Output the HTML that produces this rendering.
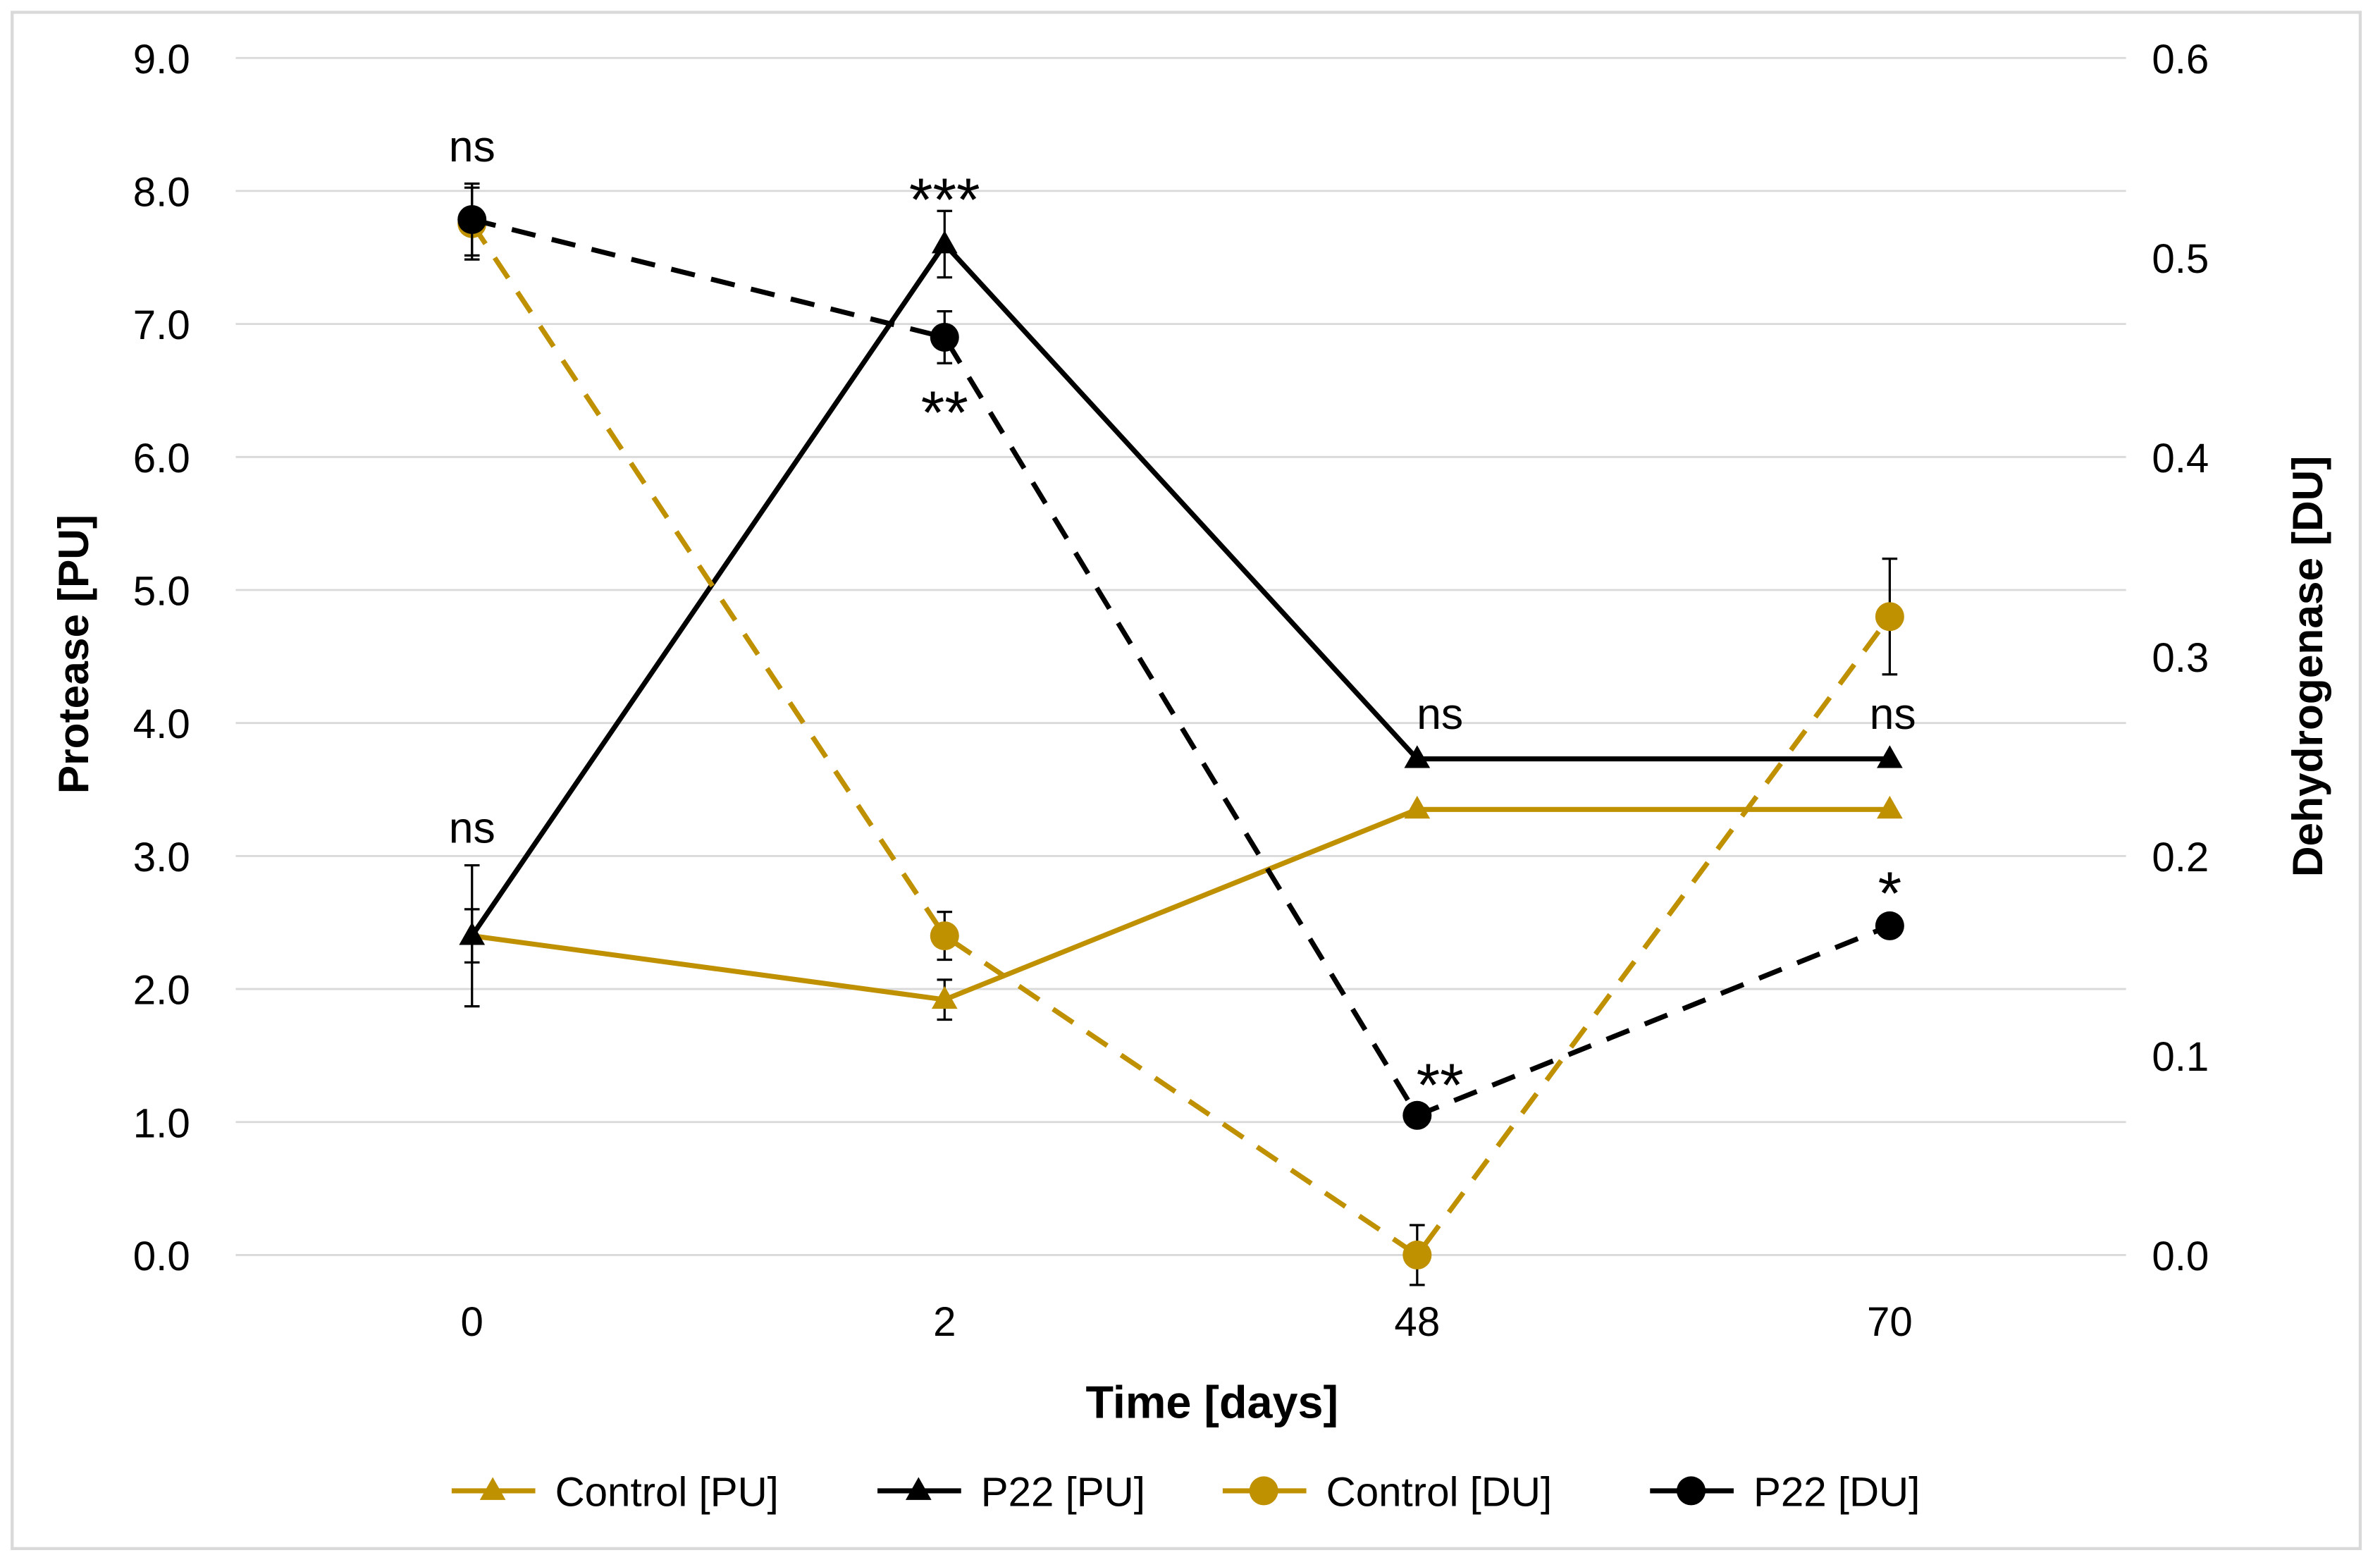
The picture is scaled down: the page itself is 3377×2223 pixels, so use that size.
<!DOCTYPE html>
<html><head><meta charset="utf-8"><style>
html,body{margin:0;padding:0;background:#fff;}
svg{display:block;font-family:"Liberation Sans",sans-serif;}
</style></head><body>
<svg id="chart" width="3377" height="2223" viewBox="0 0 1565 1030" xmlns="http://www.w3.org/2000/svg">
<rect x="8" y="8" width="1544" height="1010" fill="#fff" stroke="#d9d9d9" stroke-width="2"/>
<g id="grid"></g><g id="axes"></g><g id="series"></g><g id="notes"></g>
<text transform="translate(58,430) rotate(-90)" text-anchor="middle" font-size="28" font-weight="bold">Protease [PU]</text>
<text transform="translate(1527,438) rotate(-90)" text-anchor="middle" font-size="28" font-weight="bold">Dehydrogenase [DU]</text>
<text x="797" y="932" text-anchor="middle" font-size="30" font-weight="bold">Time [days]</text>
<g id="legend"></g>
</svg>
<script>
const categories=["0","2","48","70"];
const leftTicks=[0,1,2,3,4,5,6,7,8,9];
const rightTicks=[0,0.1,0.2,0.3,0.4,0.5,0.6];
const controlPU=[2.4,1.92,3.35,3.35];
const controlPUErr=[0.2,0.15,0,0];
const p22PU=[2.4,7.6,3.73,3.73];
const p22PUErr=[0.53,0.25,0,0];
const controlDU=[0.517,0.16,0.0,0.32];
const controlDUErr=[0.018,0.012,0.015,0.029];
const p22DU=[0.519,0.46,0.07,0.165];
const p22DUErr=[0.018,0.013,0,0];
const notes=[["ns",0,97],["***",1,128],["**",1,268],["ns",2,470],["ns",3,470],["ns",0,545],["**",2,710],["*",3,584]];
const noteDx=[0,0,0,15,2,0,15,0];

const NS="http://www.w3.org/2000/svg";
const X0=155,X1=1398,YB=825,YT=38;
const xs=i=>X0+(X1-X0)*(i+0.5)/categories.length;
const yL=v=>YB-(YB-YT)*v/9;
const yR=v=>YB-(YB-YT)*v/0.6;
const GOLD="#BF9000";
function el(tag,attrs,parent,text){const e=document.createElementNS(NS,tag);for(const k in attrs)e.setAttribute(k,attrs[k]);if(text!==undefined)e.textContent=text;parent.appendChild(e);return e;}
const grid=document.getElementById('grid'),axes=document.getElementById('axes'),ser=document.getElementById('series'),nt=document.getElementById('notes'),lg=document.getElementById('legend');
leftTicks.forEach(v=>{
  const l=el('line',{x1:X0,x2:X1,y1:yL(v),y2:yL(v),stroke:'#d9d9d9','stroke-width':1.3},grid);
  
  
  const t=el('text',{x:125,y:yL(v)+10,'text-anchor':'end','font-size':27},axes,v.toFixed(1));
  
  
});
rightTicks.forEach(v=>{
  const t=el('text',{x:1415,y:yR(v)+10,'font-size':27},axes,v.toFixed(1));
  
  
});
categories.forEach((c,i)=>{
  const t=el('text',{x:xs(i),y:878,'text-anchor':'middle','font-size':27},axes,c);
  
  
});
function marker(g,x,y,shape,color){
  if(shape==='tri'){el('polygon',{points:`${x},${y-9} ${x-8.5},${y+6} ${x+8.5},${y+6}`,fill:color},g);}
  else el('circle',{cx:x,cy:y,r:9.5,fill:color},g);
}
function series(name,vals,errs,yf,color,dash,shape){
  const g=el('g',{},ser);
  
  
  el('polyline',{points:vals.map((v,i)=>xs(i)+','+yf(v)).join(' '),fill:'none',stroke:color,'stroke-width':3.3,'stroke-dasharray':dash?'16 11':'none'},g);
  vals.forEach((v,i)=>{
    if(errs[i]>0){const a=yf(v+errs[i]),b=yf(v-errs[i]),x=xs(i);
      el('path',{d:`M${x},${a}V${b}M${x-5},${a}H${x+5}M${x-5},${b}H${x+5}`,stroke:'#000','stroke-width':1.5,fill:'none'},g);}
    marker(g,xs(i),yf(v),shape,color);
  });
}
series('control-pu-series',controlPU,controlPUErr,yL,GOLD,false,'tri');
series('p22-pu-series',p22PU,p22PUErr,yL,'#000',false,'tri');
series('control-du-series',controlDU,controlDUErr,yR,GOLD,true,'circ');
series('p22-du-series',p22DU,p22DUErr,yR,'#000',true,'circ');
notes.forEach((n,k)=>{
  const star=n[0].indexOf('*')>=0;
  const t=el('text',{x:xs(n[1])+noteDx[k],y:n[2]+9+(star?8:0),'text-anchor':'middle','font-size':star?40:29},nt,n[0]);
  
  
});
const legendItems=[["Control [PU]",GOLD,false,'tri',297],["P22 [PU]","#000",false,'tri',577],["Control [DU]",GOLD,true,'circ',804],["P22 [DU]","#000",true,'circ',1085]];
legendItems.forEach(it=>{
  const g=el('g',{},lg);
  
  
  el('line',{x1:it[4],x2:it[4]+55,y1:980,y2:980,stroke:it[1],'stroke-width':3.3},g);
  marker(g,it[4]+27,980,it[3],it[1]);
  el('text',{x:it[4]+68,y:990,'font-size':27},g,it[0]);
});
</script>
</body></html>
